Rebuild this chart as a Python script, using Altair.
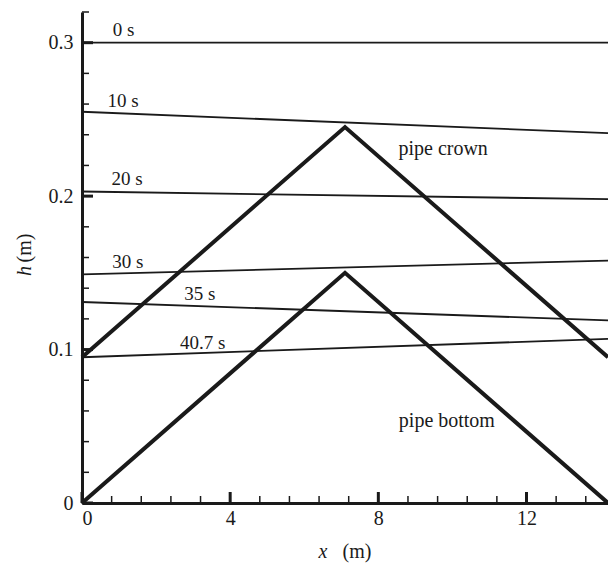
import altair as alt
import pandas as pd

FONT = "Liberation Serif"
INK = "#1a1a1a"

# Free-surface profiles: water depth at the upstream (x=0) and downstream end
times = ["0 s", "10 s", "20 s", "30 s", "35 s", "40.7 s"]
x_start = [0.0] * 6
x_end = [14.2] * 6
h_start = [0.300, 0.255, 0.203, 0.149, 0.131, 0.095]
h_end = [0.300, 0.241, 0.198, 0.158, 0.119, 0.107]

# Label anchors for each profile
label_x = [1.12, 1.11, 1.22, 1.24, 3.18, 3.26]
label_h = [0.308, 0.262, 0.211, 0.157, 0.136, 0.104]

# Pipe geometry (crown and invert), V-shaped profile
pipe_x = [0.0, 7.1, 14.2]
crown_h = [0.095, 0.245, 0.095]
bottom_h = [0.0, 0.150, 0.0]
pipe_names = ["pipe crown", "pipe bottom"]
pipe_label_x = [9.75, 9.85]
pipe_label_h = [0.231, 0.0535]

# Axis ticks
x_major = [0, 4, 8, 12]
x_minor = [0.8, 1.6, 2.4, 3.2, 4.8, 5.6, 6.4, 7.2, 8.8, 9.6, 10.4, 11.2, 12.8, 13.6]
y_major = [0.0, 0.1, 0.2, 0.3]
y_minor = [0.02, 0.04, 0.06, 0.08, 0.12, 0.14, 0.16, 0.18, 0.22, 0.24, 0.26, 0.28, 0.32]

W, H = 526, 491

xs = alt.Scale(domain=[0, 14.2], nice=False, zero=False)
ys = alt.Scale(domain=[0, 0.32], nice=False)

profiles = pd.DataFrame(
    [{"t": t, "x": a, "h": ha, "order": 0} for t, a, ha in zip(times, x_start, h_start)]
    + [{"t": t, "x": b, "h": hb, "order": 1} for t, b, hb in zip(times, x_end, h_end)]
)
pipe = pd.DataFrame(
    [{"part": "crown", "x": x, "h": h, "i": i} for i, (x, h) in enumerate(zip(pipe_x, crown_h))]
    + [{"part": "bottom", "x": x, "h": h, "i": i} for i, (x, h) in enumerate(zip(pipe_x, bottom_h))]
)
labels = pd.DataFrame({"t": times, "x": label_x, "h": label_h})
pipe_labels = pd.DataFrame({"t": pipe_names, "x": pipe_label_x, "h": pipe_label_h})

base_x = alt.X("x:Q", scale=xs, axis=alt.Axis(
    values=x_major, title=None, ticks=False, grid=False, labelPadding=5,
    domainWidth=3, domainColor=INK, labelFont=FONT, labelFontSize=20, labelColor=INK))
base_y = alt.Y("h:Q", scale=ys, axis=alt.Axis(
    values=y_major, title=None, ticks=False, grid=False, labelPadding=9,
    domainWidth=3, domainColor=INK, labelFont=FONT, labelFontSize=20, labelColor=INK,
    labelExpr="datum.value == 0 ? '0' : format(datum.value, '.1f')"))

profile_lines = alt.Chart(profiles).mark_line(color=INK, strokeWidth=1.8).encode(
    x=base_x, y=base_y, detail="t:N", order="order:Q")

pipe_lines = alt.Chart(pipe).mark_line(color=INK, strokeWidth=4, strokeJoin="miter").encode(
    x=alt.X("x:Q", scale=xs), y=alt.Y("h:Q", scale=ys), detail="part:N", order="i:Q")

profile_text = alt.Chart(labels).mark_text(font=FONT, fontSize=19, color=INK).encode(
    x=alt.X("x:Q", scale=xs), y=alt.Y("h:Q", scale=ys), text="t:N")

pipe_text = alt.Chart(pipe_labels).mark_text(font=FONT, fontSize=20, color=INK).encode(
    x=alt.X("x:Q", scale=xs), y=alt.Y("h:Q", scale=ys), text="t:N")

# Inward-pointing tick marks
xmaj = alt.Chart(pd.DataFrame({"x": x_major})).mark_rule(color=INK, strokeWidth=3).encode(
    x=alt.X("x:Q", scale=xs), y=alt.value(H), y2=alt.value(H - 11))
xmin = alt.Chart(pd.DataFrame({"x": x_minor})).mark_rule(color=INK, strokeWidth=1.5).encode(
    x=alt.X("x:Q", scale=xs), y=alt.value(H), y2=alt.value(H - 7))
ymaj = alt.Chart(pd.DataFrame({"h": y_major})).mark_rule(color=INK, strokeWidth=3).encode(
    y=alt.Y("h:Q", scale=ys), x=alt.value(0), x2=alt.value(11))
ymin = alt.Chart(pd.DataFrame({"h": y_minor})).mark_rule(color=INK, strokeWidth=1.5).encode(
    y=alt.Y("h:Q", scale=ys), x=alt.value(0), x2=alt.value(7))

# Axis titles with italic variable symbols
title_df = pd.DataFrame({"a": [0]})
x_sym = alt.Chart(title_df).mark_text(font=FONT, fontSize=20, fontStyle="italic", color=INK).encode(
    x=alt.value(241), y=alt.value(540), text=alt.value("x"))
x_unit = alt.Chart(title_df).mark_text(font=FONT, fontSize=20, color=INK).encode(
    x=alt.value(275), y=alt.value(540), text=alt.value("(m)"))
y_sym = alt.Chart(title_df).mark_text(font=FONT, fontSize=20, fontStyle="italic", color=INK, angle=270).encode(
    x=alt.value(-57), y=alt.value(259), text=alt.value("h"))
y_unit = alt.Chart(title_df).mark_text(font=FONT, fontSize=20, color=INK, angle=270).encode(
    x=alt.value(-57), y=alt.value(236), text=alt.value("(m)"))

chart = alt.layer(
    profile_lines, pipe_lines, profile_text, pipe_text,
    xmaj, xmin, ymaj, ymin, x_sym, x_unit, y_sym, y_unit
).properties(
    width=W, height=H,
    padding={"left": 82, "top": 12, "right": 0, "bottom": 66},
    autosize=alt.AutoSizeParams(type="none"),
    background="white",
).configure_view(stroke=None, clip=False)

chart.save("out.html", embed_options={"renderer": "svg", "actions": False})
